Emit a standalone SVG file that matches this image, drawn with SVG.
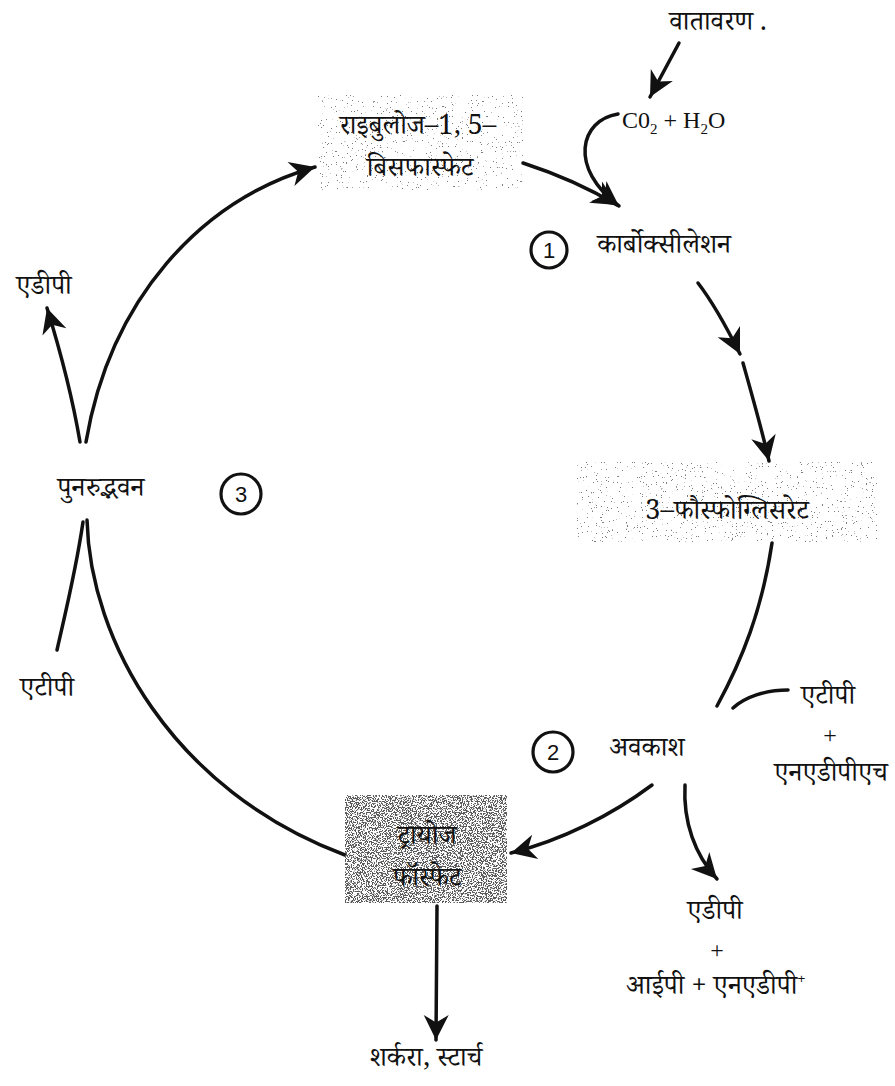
<svg xmlns="http://www.w3.org/2000/svg" width="895" height="1086" viewBox="0 0 895 1086">
<style>
.t{font-family:"Noto Serif Devanagari","Noto Sans Devanagari","Lohit Devanagari","Liberation Serif",serif;font-size:27px;fill:#111}
.l{font-family:"Liberation Serif",serif;font-size:24px;fill:#111}
.c{fill:none;stroke:#111;stroke-width:3.5;stroke-linecap:round}
.circ{fill:#fff;stroke:#111;stroke-width:3.2}
.n{font-family:"Liberation Sans",sans-serif;font-size:22px;fill:#111}
</style>
<defs>
<marker id="ah" markerUnits="userSpaceOnUse" markerWidth="30" markerHeight="30" refX="0" refY="0" orient="auto" viewBox="-22 -11 24 22">
<path d="M0,0 L-20,-10 L-14,0 L-20,10 Z" fill="#111"/>
</marker>
<filter id="spL" x="0" y="0" width="100%" height="100%">
<feTurbulence type="fractalNoise" baseFrequency="0.8" numOctaves="2" seed="4" result="n"/>
<feColorMatrix in="n" type="matrix" values="0 0 0 0 0.2  0 0 0 0 0.2  0 0 0 0 0.2  24 0 0 0 -16.8"/>
<feComposite in2="SourceGraphic" operator="in"/>
</filter>
<filter id="spD" x="0" y="0" width="100%" height="100%">
<feTurbulence type="fractalNoise" baseFrequency="0.8" numOctaves="2" seed="7" result="n"/>
<feColorMatrix in="n" type="matrix" values="0 0 0 0 0.1  0 0 0 0 0.1  0 0 0 0 0.1  18 0 0 0 -8.8"/>
<feComposite in2="SourceGraphic" operator="in"/>
</filter>
</defs>
<rect width="895" height="1086" fill="#fff"/>

<g id="connectors">
<path class="c" d="M679,43 L650,97" marker-end="url(#ah)"/>
<path class="c" d="M618,114 C580,120 568,168 619,206" marker-end="url(#ah)"/>
<path class="c" d="M523,163 C560,175 592,190 617,205" marker-end="url(#ah)"/>
<path class="c" d="M698,283 C715,305 728,330 740,354" marker-end="url(#ah)"/>
<path class="c" d="M743,363 C752,395 762,430 769,461" marker-end="url(#ah)"/>
<path class="c" d="M772,543 C762,610 742,660 717,706"/>
<path class="c" d="M788,690 C765,690 745,697 733,708"/>
<path class="c" d="M652,785 C612,815 562,840 511,853" marker-end="url(#ah)"/>
<path class="c" d="M685,785 C683,822 695,855 717,879" marker-end="url(#ah)"/>
<path class="c" d="M437,906 L436,1040" marker-end="url(#ah)"/>
<path class="c" d="M87,520 C90,640 172,790 345,855"/>
<path class="c" d="M57,650 C66,610 76,570 83,522"/>
<path class="c" d="M80,442 C72,395 60,350 47,308" marker-end="url(#ah)"/>
<path class="c" d="M86,442 C110,300 200,200 315,167" marker-end="url(#ah)"/>
</g>

<g id="node-atmosphere"><text class="t" x="718" y="30" text-anchor="middle">वातावरण .</text></g>
<g id="node-co2"><text class="l" x="622" y="128">C0<tspan font-size="15" dy="6">2</tspan><tspan dy="-6"> + H</tspan><tspan font-size="15" dy="6">2</tspan><tspan dy="-6">O</tspan></text></g>

<g id="node-rubp">
<rect x="318" y="95" width="205" height="95" fill="#888" filter="url(#spL)"/>
<text class="t" x="418" y="134" text-anchor="middle">राइबुलोज–1, 5–</text>
<text class="t" x="420" y="176" text-anchor="middle">बिसफास्फेट</text>
</g>

<g id="node-carboxylation">
<circle class="circ" cx="549" cy="250" r="18"/>
<text class="n" x="549" y="258" text-anchor="middle">1</text>
<text class="t" x="664" y="253" text-anchor="middle">कार्बोक्सीलेशन</text>
</g>

<g id="node-pga">
<rect x="577" y="462" width="300" height="80" fill="#888" filter="url(#spL)"/>
<text class="t" x="727" y="519" text-anchor="middle">3–फौस्फोग्लिसरेट</text>
</g>

<g id="node-reduction">
<circle class="circ" cx="553" cy="752" r="20"/>
<text class="n" x="553" y="760" text-anchor="middle">2</text>
<text class="t" x="647" y="756" text-anchor="middle">अवकाश</text>
</g>

<g id="node-atp-nadph">
<text class="t" x="828" y="704" text-anchor="middle">एटीपी</text>
<text class="l" x="830" y="743" text-anchor="middle">+</text>
<text class="t" x="831" y="781" text-anchor="middle">एनएडीपीएच</text>
</g>

<g id="node-adp-pi">
<text class="t" x="715" y="919" text-anchor="middle">एडीपी</text>
<text class="l" x="717" y="958" text-anchor="middle">+</text>
<text class="t" x="716" y="994" text-anchor="middle">आईपी + एनएडीपी<tspan font-size="15" dy="-10">+</tspan></text>
</g>

<g id="node-triose">
<rect x="345" y="795" width="162" height="108" fill="#555" filter="url(#spD)"/>
<text class="t" x="427" y="844" text-anchor="middle">ट्रायोज</text>
<text class="t" x="427" y="886" text-anchor="middle">फॉस्फेट</text>
</g>

<g id="node-sugar"><text class="t" x="426" y="1066" text-anchor="middle" font-size="26">शर्करा, स्टार्च</text></g>

<g id="node-regeneration">
<text class="t" x="101" y="496" text-anchor="middle">पुनरुद्भवन</text>
<circle class="circ" cx="241" cy="494" r="20"/>
<text class="n" x="241" y="502" text-anchor="middle">3</text>
</g>

<g id="node-adp-left"><text class="t" x="44" y="294" text-anchor="middle">एडीपी</text></g>
<g id="node-atp-left"><text class="t" x="47" y="696" text-anchor="middle">एटीपी</text></g>
</svg>
